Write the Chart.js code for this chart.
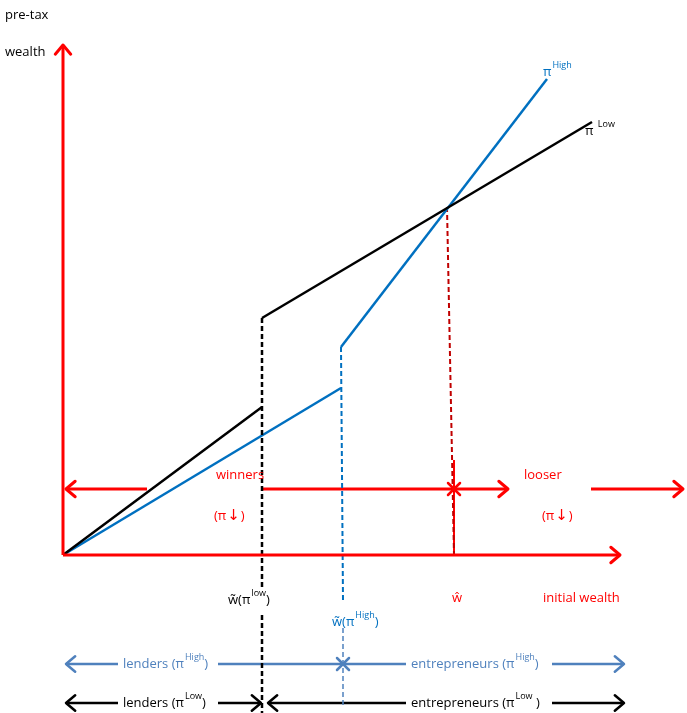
<!DOCTYPE html>
<html>
<head>
<meta charset="utf-8">
<script src="https://cdn.jsdelivr.net/npm/chart.js@4"></script>
<style>
  body { margin: 0; background: #fff; }
  canvas { display: block; }
</style>
</head>
<body>
<canvas id="diagram" width="687" height="713"></canvas>
<script>
// all points in diagram units: x = initial wealth, y = pre-tax wealth (origin at axes crossing)
var piLowLenders = [[0, 0], [199, 148]];
var piLowEntrep = [[199, 237], [529, 433]];
var piLowCutoff = [[199, 237], [199, -35]];
var piLowCutoffBelow = [[199, -60], [199, -158]];
var piHighLenders = [[0, 0], [278, 167]];
var piHighEntrep = [[278, 208], [484, 476]];
var piHighCutoff = [[278, 208], [280, -45]];
var piHighCutoffBelow = [[280, -73], [280, -152]];
var wHatDashed = [[384, 348], [391, 0]];
var wHatSolid = [[391, 95], [391, 0]];
var yAxisLine = [[0, 0], [0, 510]];
var xAxisLine = [[0, 0], [557, 0]];

// arrow rows
var winnersLeft = [[84, 66], [3, 66]];
var winnersMain = [[199, 66], [445, 66]];
var looserRight = [[528, 66], [620, 66]];
var highLendersArrow = [[55, -109], [3, -109]];
var highMiddle = [[155, -109], [343, -109]];
var highEntrepArrow = [[489, -109], [561, -109]];
var lowLendersLeft = [[55, -148], [3, -148]];
var lowLendersRight = [[155, -148], [198, -148]];
var lowEntrepLeft = [[343, -148], [205, -148]];
var lowEntrepRight = [[489, -148], [561, -148]];

var crossMarks = [[391, 66, '#FF0000'], [280, -109, '#4F81BD']];

// labels: plain strings, [string] = superscript, {sym: string} = arrow glyph
var textLabels = [
    { parts: ['pre-tax'], x: -58, y: 540, color: '#000000' },
    { parts: ['wealth'], x: -58, y: 503, color: '#000000' },
    { parts: ['π', ['High']], x: 480, y: 483, color: '#0070C0' },
    { parts: ['π ', ['Low']], x: 522, y: 424, color: '#000000' },
    { parts: ['winners'], x: 153, y: 80, color: '#FF0000' },
    { parts: ['(π', { sym: '↓' }, ')'], x: 151, y: 39, color: '#FF0000' },
    { parts: ['looser'], x: 461, y: 80, color: '#FF0000' },
    { parts: ['(π', { sym: '↓' }, ')'], x: 479, y: 39, color: '#FF0000' },
    { parts: ['w\u0303(π', ['low'], ')'], x: 165, y: -45, color: '#000000' },
    { parts: ['ŵ'], x: 389, y: -43, color: '#FF0000' },
    { parts: ['initial wealth'], x: 480, y: -43, color: '#FF0000' },
    { parts: ['w\u0303(π', ['High'], ')'], x: 269, y: -67, color: '#0070C0' },
    { parts: ['lenders (π', ['High'], ')'], x: 60, y: -109, color: '#4F81BD' },
    { parts: ['entrepreneurs (π', ['High'], ')'], x: 348, y: -109, color: '#4F81BD' },
    { parts: ['lenders (π', ['Low'], ')'], x: 60, y: -148, color: '#000000' },
    { parts: ['entrepreneurs (π', ['Low'], ' )'], x: 348, y: -148, color: '#000000' }
];

var FONT = '"Open Sans", sans-serif';

function seg(points, color, width, dash, arrow) {
    return {
        data: points.map(function (p) { return { x: p[0], y: p[1] }; }),
        showLine: true,
        borderColor: color,
        borderWidth: width,
        borderDash: dash || [],
        pointRadius: 0,
        fill: false,
        tension: 0,
        arrowEnd: !!arrow
    };
}

var datasets = [
    seg(yAxisLine, '#FF0000', 3, null, true),
    seg(xAxisLine, '#FF0000', 3, null, true),
    seg(piLowLenders, '#000000', 2.5),
    seg(piLowEntrep, '#000000', 2.5),
    seg(piLowCutoff, '#000000', 2.5, [5, 3]),
    seg(piLowCutoffBelow, '#000000', 2.5, [5, 3]),
    seg(piHighLenders, '#0070C0', 2.5),
    seg(piHighEntrep, '#0070C0', 2.5),
    seg(piHighCutoff, '#0070C0', 2, [5, 3]),
    seg(piHighCutoffBelow, '#4F81BD', 1.5, [5, 3]),
    seg(wHatDashed, '#C00000', 2, [5, 3]),
    seg(wHatSolid, '#FF0000', 2),
    seg(winnersLeft, '#FF0000', 3, null, true),
    seg(winnersMain, '#FF0000', 3, null, true),
    seg(looserRight, '#FF0000', 3, null, true),
    seg(highLendersArrow, '#4F81BD', 2.5, null, true),
    seg(highMiddle, '#4F81BD', 2.5),
    seg(highEntrepArrow, '#4F81BD', 2.5, null, true),
    seg(lowLendersLeft, '#000000', 2.5, null, true),
    seg(lowLendersRight, '#000000', 2.5, null, true),
    seg(lowEntrepLeft, '#000000', 2.5, null, true),
    seg(lowEntrepRight, '#000000', 2.5, null, true)
];

var decorations = {
    id: 'decorations',
    afterDatasetsDraw: function (chart) {
        var ctx = chart.ctx;
        var xs = chart.scales.x, ys = chart.scales.y;
        ctx.save();
        ctx.lineCap = 'round';
        ctx.lineJoin = 'round';

        // arrow heads (open chevrons)
        chart.data.datasets.forEach(function (ds) {
            if (!ds.arrowEnd) return;
            var a = ds.data[ds.data.length - 2], b = ds.data[ds.data.length - 1];
            var x1 = xs.getPixelForValue(a.x), y1 = ys.getPixelForValue(a.y);
            var x2 = xs.getPixelForValue(b.x), y2 = ys.getPixelForValue(b.y);
            var ang = Math.atan2(y2 - y1, x2 - x1);
            var len = 12, spread = 0.7;
            ctx.strokeStyle = ds.borderColor;
            ctx.lineWidth = ds.borderWidth;
            ctx.beginPath();
            ctx.moveTo(x2 - len * Math.cos(ang - spread), y2 - len * Math.sin(ang - spread));
            ctx.lineTo(x2, y2);
            ctx.lineTo(x2 - len * Math.cos(ang + spread), y2 - len * Math.sin(ang + spread));
            ctx.stroke();
        });

        // cross marks
        crossMarks.forEach(function (m) {
            var cx = xs.getPixelForValue(m[0]), cy = ys.getPixelForValue(m[1]);
            var r = 6;
            ctx.strokeStyle = m[2];
            ctx.lineWidth = 2.5;
            ctx.beginPath();
            ctx.moveTo(cx - r, cy - r); ctx.lineTo(cx + r, cy + r);
            ctx.moveTo(cx - r, cy + r); ctx.lineTo(cx + r, cy - r);
            ctx.stroke();
        });

        // texts
        ctx.textBaseline = 'middle';
        ctx.textAlign = 'left';
        textLabels.forEach(function (lab) {
            var px = xs.getPixelForValue(lab.x), py = ys.getPixelForValue(lab.y);
            ctx.fillStyle = lab.color;
            lab.parts.forEach(function (p) {
                if (Array.isArray(p)) {
                    ctx.font = '9px ' + FONT;
                    ctx.fillText(p[0], px + 1, py - 7);
                    px += ctx.measureText(p[0]).width + 1;
                } else if (typeof p === 'object') {
                    ctx.font = '15px "DejaVu Sans", sans-serif';
                    ctx.fillText(p.sym, px + 1, py);
                    px += ctx.measureText(p.sym).width + 2;
                } else {
                    ctx.font = '13px ' + FONT;
                    ctx.fillText(p, px, py);
                    px += ctx.measureText(p).width;
                }
            });
        });
        ctx.restore();
    }
};

new Chart(document.getElementById('diagram').getContext('2d'), {
    type: 'scatter',
    data: { datasets: datasets },
    options: {
        responsive: false,
        animation: false,
        layout: { padding: 0 },
        plugins: { legend: { display: false }, tooltip: { enabled: false } },
        scales: {
            x: { type: 'linear', min: -63, max: 624, display: false },
            y: { type: 'linear', min: -158, max: 555, display: false }
        }
    },
    plugins: [decorations]
});
</script>
</body>
</html>
